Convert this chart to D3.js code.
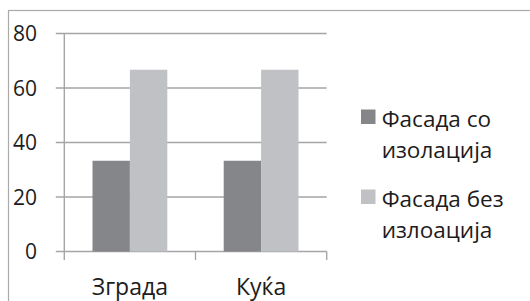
<!DOCTYPE html>
<html>
<head>
<meta charset="utf-8">
<script src="https://cdn.jsdelivr.net/npm/d3@7"></script>
<style>
  body { margin: 0; background: #fff; }
  text { font-family: "Open Sans", sans-serif; fill: #1e1b1c; }
</style>
</head>
<body>
<div id="chart"></div>
<script>
// --> DATA
var categories = ["Зграда", "Куќа"];
var seriesNames = ["Фасада со изолација", "Фасада без излоација"];
var legendLines = [["Фасада со", "изолација"], ["Фасада без", "излоација"]];
var withInsulation = [33.3, 33.3];
var withoutInsulation = [66.7, 66.7];
var yTicks = [0, 20, 40, 60, 80];

var colors = ["#858689", "#c0c1c5"];
var gridColor = "#a5a5a5";

var width = 530,
    height = 301;

var svg = d3.select("#chart").append("svg")
    .attr("width", width)
    .attr("height", height);

// outer frame (runs off the right and bottom edges)
svg.append("rect")
    .attr("x", 8.5)
    .attr("y", 10.5)
    .attr("width", 600)
    .attr("height", 400)
    .attr("fill", "none")
    .attr("stroke", "#aaaaaa")
    .attr("stroke-width", 1.2);

var plot = { left: 64.3, right: 326.7, top: 33.5, bottom: 251.5 };

var y = d3.scaleLinear().domain([0, 80]).range([plot.bottom, plot.top]);

var x0 = d3.scaleBand()
    .domain(categories)
    .range([plot.left, plot.right])
    .paddingInner(0.43)
    .paddingOuter(0.215);

var x1 = d3.scaleBand()
    .domain([0, 1])
    .range([0, x0.bandwidth()]);

// gridlines with left tick stubs
svg.append("g")
    .selectAll("line")
    .data(yTicks)
    .enter().append("line")
    .attr("x1", plot.left - 8.5)
    .attr("x2", plot.right)
    .attr("y1", function(d) { return y(d); })
    .attr("y2", function(d) { return y(d); })
    .attr("stroke", gridColor)
    .attr("stroke-width", 1.4);

// y axis line
svg.append("line")
    .attr("x1", plot.left).attr("x2", plot.left)
    .attr("y1", plot.top).attr("y2", plot.bottom + 8.5)
    .attr("stroke", gridColor)
    .attr("stroke-width", 1.4);

// x category boundary ticks
var boundaries = [plot.left, (plot.left + plot.right) / 2, plot.right];
svg.append("g")
    .selectAll("line")
    .data(boundaries.slice(1))
    .enter().append("line")
    .attr("x1", function(d) { return d; })
    .attr("x2", function(d) { return d; })
    .attr("y1", plot.bottom)
    .attr("y2", plot.bottom + 8.5)
    .attr("stroke", gridColor)
    .attr("stroke-width", 1.4);

// y tick labels
svg.append("g")
    .selectAll("text")
    .data(yTicks)
    .enter().append("text")
    .attr("x", 37)
    .attr("y", function(d) { return y(d) + 7.7; })
    .attr("text-anchor", "end")
    .style("font-size", "21px")
    .text(function(d) { return d; });

// bars
var rows = categories.map(function(c, i) {
    return { cat: c, values: [withInsulation[i], withoutInsulation[i]] };
});

var groups = svg.selectAll(".group")
    .data(rows)
    .enter().append("g")
    .attr("class", "group")
    .attr("transform", function(d) { return "translate(" + x0(d.cat) + ",0)"; });

groups.selectAll("rect")
    .data(function(d) { return d.values; })
    .enter().append("rect")
    .attr("x", function(d, i) { return x1(i); })
    .attr("y", function(d) { return y(d); })
    .attr("width", x1.bandwidth())
    .attr("height", function(d) { return y(0) - y(d); })
    .attr("fill", function(d, i) { return colors[i]; });

// x labels
svg.append("g")
    .selectAll("text")
    .data(categories)
    .enter().append("text")
    .attr("x", function(d) { return x0(d) + x0.bandwidth() / 2; })
    .attr("y", 295)
    .attr("text-anchor", "middle")
    .style("font-size", "23px")
    .text(function(d) { return d; });

// legend
var legend = svg.selectAll(".legend")
    .data(seriesNames)
    .enter().append("g")
    .attr("class", "legend")
    .attr("transform", function(d, i) {
        return "translate(361," + (109.5 + 80 * i) + ")";
    });

legend.append("rect")
    .attr("width", 14.5)
    .attr("height", 14.5)
    .attr("fill", function(d, i) { return colors[i]; });

legend.each(function(d, i) {
    var t = d3.select(this).append("text")
        .style("font-size", "22.5px");
    t.selectAll("tspan")
        .data(legendLines[i])
        .enter().append("tspan")
        .attr("x", 20.7)
        .attr("y", function(l, j) { return 17 + 31 * j; })
        .text(function(l) { return l; });
});
</script>
</body>
</html>
